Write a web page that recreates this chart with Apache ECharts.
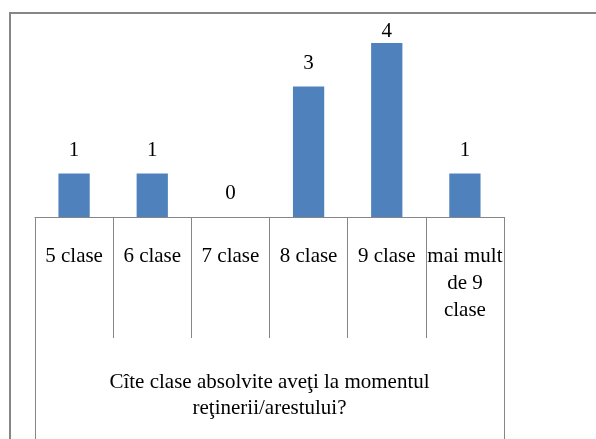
<!DOCTYPE html>
<html>
<head>
<meta charset="utf-8">
<style>
  html, body { margin: 0; padding: 0; background: #fff; }
  #chart { width: 596px; height: 439px; }
</style>
<script src="https://cdn.jsdelivr.net/npm/echarts@6/dist/echarts.min.js"></script>
</head>
<body>
<div id="chart"></div>
<script>
var categories = ['5 clase', '6 clase', '7 clase', '8 clase', '9 clase', 'mai mult\nde 9\nclase'];
var values = [1, 1, 0, 3, 4, 1];
var groupLabel = ['Cîte clase absolvite aveţi la momentul\nreţinerii/arestului?'];

(function() {
  var font = 'Liberation Serif';
  var blue = '#4f81bd';
  var rule = '#868686';
  var maxVal = Math.max.apply(null, values);

  var chart = echarts.init(document.getElementById('chart'), null, { renderer: 'canvas' });

  // top bar label gets squeezed against the plot top, like the original
  var barData = values.map(function(v) {
    if (v === maxVal) return { value: v, label: { distance: 1 } };
    return v;
  });

  chart.setOption({
    animation: false,
    graphic: [{
      type: 'rect',
      shape: { x: 10, y: 13, width: 700, height: 500 },
      style: { fill: 'none', stroke: rule, lineWidth: 2 },
      silent: true
    }],
    grid: { left: 35, right: 92, top: 43, bottom: 222 },
    xAxis: [
      {
        type: 'category',
        data: categories,
        position: 'bottom',
        axisLine: { lineStyle: { color: rule, width: 1 } },
        axisTick: { show: true, length: 121, interval: 0, lineStyle: { color: rule } },
        axisLabel: {
          interval: 0, margin: 26, color: '#000',
          fontFamily: font, fontSize: 21, lineHeight: 27
        }
      },
      {
        type: 'category',
        data: groupLabel,
        position: 'bottom',
        axisLine: { show: false },
        axisTick: { show: true, length: 222, lineStyle: { color: rule } },
        axisLabel: {
          margin: 152, color: '#000',
          fontFamily: font, fontSize: 21, lineHeight: 26, align: 'center'
        }
      }
    ],
    yAxis: {
      type: 'value', min: 0, max: maxVal, show: false,
      splitLine: { show: false }
    },
    series: [{
      type: 'bar',
      xAxisIndex: 0,
      data: barData,
      barWidth: '40%',
      itemStyle: { color: blue },
      label: {
        show: true, position: 'top', distance: 13,
        color: '#000', fontFamily: font, fontSize: 21
      }
    }]
  });
})();
</script>
</body>
</html>
